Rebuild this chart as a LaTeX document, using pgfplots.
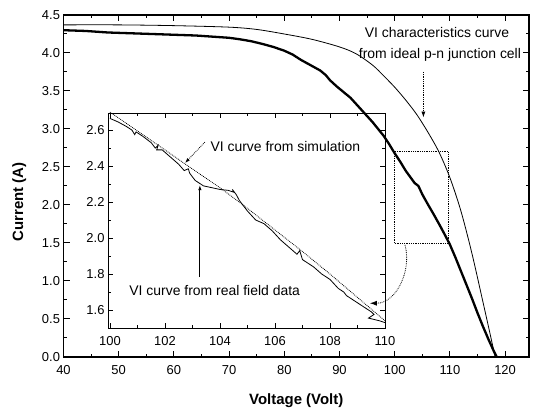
\documentclass[border=0pt]{standalone}
\usepackage{pgfplots}
\pgfplotsset{compat=1.18}
\usepackage{fontspec}
\setmainfont{Liberation Sans}
\usetikzlibrary{arrows.meta}

\begin{document}
\begin{tikzpicture}
\begin{axis}[
  at={(63.5bp,55bp)}, anchor=south west,
  scale only axis, width=465.5bp, height=342bp,
  xmin=40, xmax=124.33, ymin=0, ymax=4.5,
  xtick={40,50,...,120}, ytick={0,0.5,1,1.5,2,2.5,3,3.5,4,4.5},
  minor x tick num=1, minor y tick num=1,
  tick align=inside, tick pos=both,
  major tick length=6bp, minor tick length=3.5bp,
  axis line style={line width=1.3bp},
  every tick/.append style={line width=1bp, black},
  /pgf/number format/assume math mode=true,
  yticklabel style={/pgf/number format/.cd, fixed, fixed zerofill, precision=1},
  xticklabel style={yshift=-5bp},
  tick label style={font=\fontsize{13}{13}\selectfont},
  label style={font=\fontsize{15}{15}\selectfont\bfseries},
  xlabel={Voltage (Volt)}, ylabel={Current (A)},
  xlabel style={yshift=-12bp},
  ylabel style={at={(ticklabel cs:0.453)}, yshift=9bp},
  clip=false,
]
% ideal p-n junction curve
\addplot[black, line width=0.8bp, smooth] coordinates {
(40,4.37) (50,4.37) (60,4.36) (70,4.34) (75,4.31) (80,4.25) (85,4.18) (90,4.08)
(93,3.99) (96,3.84) (98,3.70) (100,3.55) (102,3.38) (104,3.19) (106,2.96)
(108,2.70) (110,2.36) (112,1.92) (114,1.36) (116,0.72) (117.2,0.33) (118.2,0.0)
};
% real field data (thick)
\addplot[black, line width=2.3bp] coordinates {
(40,4.30) (42,4.295) (44,4.29) (46,4.28) (48,4.27) (50,4.265) (52,4.26) (54,4.255)
(56,4.25) (58,4.245) (60,4.24) (62,4.235) (64,4.23) (66,4.22) (68,4.21) (70,4.20)
(72,4.18) (74,4.155) (76,4.12) (78,4.08) (80,4.03) (81.5,3.98) (83,3.91) (84.5,3.85)
(85.5,3.81) (86.5,3.77) (87.5,3.71) (88.3,3.64) (89.5,3.56) (91,3.47) (92,3.41)
(93,3.33) (94,3.25) (95,3.17) (96,3.09) (97,3.00) (98,2.91) (99,2.80) (100,2.68)
(101,2.57) (102,2.45) (102.8,2.37) (103.6,2.29) (104.3,2.25) (105,2.14) (106,2.01)
(107,1.885) (108,1.755) (109,1.62) (110,1.48) (111,1.31) (112,1.13) (113,0.95)
(114,0.77) (115,0.58) (116,0.40) (117,0.23) (118,0.07) (118.5,0.0)
};
% zoom box
\draw[densely dotted, line width=0.8bp] (axis cs:100,1.5) rectangle (axis cs:109.75,2.7);
\draw[densely dotted, line width=0.8bp, -{Latex[length=7bp,width=5bp]}]
  (axis cs:101.87,1.474) to[out=-75,in=0] (axis cs:95.5,0.707);
% annotation
\node[font=\fontsize{14}{14}\selectfont] at (axis cs:107.66,4.263) {VI characteristics curve};
\node[font=\fontsize{14}{14}\selectfont] at (axis cs:108.2,3.974) {from ideal p-n junction cell};
\draw[densely dotted, line width=0.8bp, -{Latex[length=6bp,width=4bp]}]
  (axis cs:105.2,3.75) -- (axis cs:105.2,3.15);
\end{axis}

\begin{axis}[
  at={(108bp,84bp)}, anchor=south west,
  scale only axis, width=277bp, height=215bp,
  xmin=99.93, xmax=110, ymin=1.5, ymax=2.695,
  xtick={100,102,104,106,108,110}, ytick={1.6,1.8,2.0,2.2,2.4,2.6},
  minor x tick num=1, minor y tick num=1,
  tick align=inside, tick pos=both,
  major tick length=5bp, minor tick length=3bp,
  axis line style={line width=0.9bp},
  every tick/.append style={line width=0.8bp, black},
  /pgf/number format/assume math mode=true,
  yticklabel style={/pgf/number format/.cd, fixed, fixed zerofill, precision=1},
  xticklabel style={yshift=-5bp, /pgf/number format/.cd, fixed, precision=0, set thousands separator={}},
  tick label style={font=\fontsize{13}{13}\selectfont},
  clip=false,
]
% simulation (dotted)
\addplot[black, densely dotted, line width=0.8bp] coordinates {
(100,2.70) (101,2.595) (102,2.49) (102.7,2.415) (104,2.28) (105,2.165) (106,2.045)
(107,1.925) (108,1.80) (109,1.67) (110,1.54)
};
% real field data
\addplot[black, line width=0.8bp] coordinates {
(100.0,2.665) (100.3,2.645) (100.6,2.62) (100.8,2.60) (100.9,2.575) (100.95,2.59)
(101.2,2.565) (101.5,2.53) (101.65,2.50) (101.75,2.515) (101.7,2.49) (101.9,2.49)
(102.2,2.45) (102.5,2.41) (102.7,2.375) (102.85,2.385) (102.9,2.36) (103.1,2.32)
(103.4,2.29) (103.7,2.28) (104.0,2.27) (104.3,2.265) (104.5,2.255) (104.45,2.27)
(104.6,2.24) (104.7,2.21) (105.0,2.15) (105.3,2.10) (105.6,2.08) (105.9,2.04)
(106.2,1.99) (106.5,1.95) (106.8,1.91) (106.9,1.93) (107.0,1.88) (107.1,1.87)
(107.4,1.84) (107.7,1.80) (108.0,1.77) (108.3,1.72) (108.5,1.70) (108.6,1.68)
(108.9,1.65) (109.2,1.62) (109.5,1.59) (109.6,1.575) (109.4,1.555) (109.8,1.54)
(110,1.53)
};
\node[font=\fontsize{14}{14}\selectfont, anchor=west] at (axis cs:103.53,2.506) {VI curve from simulation};
\draw[densely dotted, line width=0.8bp, -{Latex[length=5bp,width=3.5bp]}]
  (axis cs:103.45,2.533) -- (axis cs:102.73,2.417);
\node[font=\fontsize{14}{14}\selectfont, anchor=west] at (axis cs:100.58,1.711) {VI curve from real field data};
\draw[line width=0.8bp, -{Latex[length=5bp,width=3.5bp]}]
  (axis cs:103.27,1.783) -- (axis cs:103.27,2.294);
\end{axis}
\pgfresetboundingbox
\path[use as bounding box] (0,0) rectangle (539bp,412bp);
\end{tikzpicture}
\end{document}
